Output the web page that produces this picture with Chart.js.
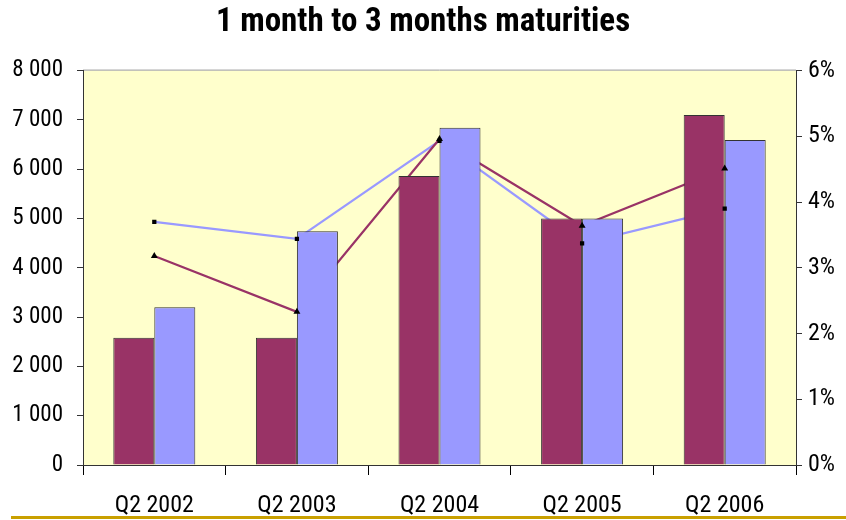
<!DOCTYPE html>
<html>
<head>
<meta charset="utf-8">
<script src="https://cdn.jsdelivr.net/npm/chart.js@4/dist/chart.umd.min.js"></script>
<style>
  body { margin: 0; background: #fff; }
  #wrap { width: 846px; height: 520px; position: relative; }
</style>
</head>
<body>
<div id="wrap"><canvas id="myChart"></canvas></div>
<script>
// categories and values
const quarters = ["Q2 2002", "Q2 2003", "Q2 2004", "Q2 2005", "Q2 2006"];
const amountA = [2580, 2580, 5860, 5000, 7100];   // maroon bars
const amountB = [3200, 4740, 6840, 5000, 6590];   // blue bars
const rateA = [3.18, 2.33, 4.96, 3.64, 4.51];     // maroon line, triangles (%)
const rateB = [3.70, 3.44, 4.93, 3.37, 3.90];     // blue line, squares (%)
const leftTicks = [0, 1000, 2000, 3000, 4000, 5000, 6000, 7000, 8000];
const rightTicks = [0, 1, 2, 3, 4, 5, 6];

const maroon = "#993366";
const blue = "#9999FF";
const font = "'Roboto Condensed', 'Liberation Sans Narrow', sans-serif";

// yellow plot area + top border, gold rule at the bottom
const plotBg = {
  id: "plotBg",
  beforeDraw(chart) {
    const { ctx, chartArea: a } = chart;
    ctx.save();
    ctx.fillStyle = "#FFFFCC";
    ctx.fillRect(a.left, a.top, a.right - a.left, a.bottom - a.top);
    ctx.strokeStyle = "#999999";
    ctx.lineWidth = 1;
    ctx.beginPath();
    ctx.moveTo(a.left, a.top - 0.5);
    ctx.lineTo(a.right, a.top - 0.5);
    ctx.stroke();
    ctx.restore();
  },
  afterDraw(chart) {
    const ctx = chart.ctx;
    ctx.save();
    ctx.fillStyle = "#C9A000";
    ctx.fillRect(11, 516, 835, 3);
    ctx.restore();
  }
};

function fmtThousands(v) {
  return String(v).replace(/\B(?=(\d{3})+(?!\d))/g, " ");
}

new Chart("myChart", {
  type: "bar",
  data: {
    labels: quarters,
    datasets: [
      { type: "line", data: rateA, yAxisID: "y2", borderColor: maroon, borderWidth: 2.2, pointRadius: 0, order: 5 },
      { type: "line", data: rateB, yAxisID: "y2", borderColor: blue, borderWidth: 2.2, pointRadius: 0, order: 5 },
      { data: amountA, backgroundColor: maroon, borderColor: "#333333", borderWidth: 1, order: 3 },
      { data: amountB, backgroundColor: blue, borderColor: "#333333", borderWidth: 1, order: 3 },
      { type: "line", data: rateA, yAxisID: "y2", showLine: false, pointStyle: "triangle", pointRadius: 4,
        pointBackgroundColor: "#000", pointBorderColor: "#000", pointBorderWidth: 0, order: 1 },
      { type: "line", data: rateB, yAxisID: "y2", showLine: false, pointStyle: "rect", pointRadius: 3,
        pointBackgroundColor: "#000", pointBorderColor: "#000", pointBorderWidth: 0, order: 1 }
    ]
  },
  options: {
    responsive: true,
    maintainAspectRatio: false,
    animation: false,
    categoryPercentage: 0.575,
    barPercentage: 1,
    layout: { padding: 0 },
    plugins: {
      legend: { display: false },
      tooltip: { enabled: false },
      title: {
        display: true,
        text: "1 month to 3 months maturities",
        color: "#000",
        font: { family: font, size: 33, weight: "bold" },
        padding: { top: 3, bottom: 28 }
      }
    },
    scales: {
      x: {
        offset: true,
        grid: { offset: true, drawOnChartArea: false, drawTicks: true, tickLength: 10, color: "#000" },
        border: { color: "#333333" },
        ticks: { color: "#000", font: { family: font, size: 24 }, padding: 17 },
        afterFit(s) { s.height = 55; }
      },
      y: {
        position: "left",
        min: 0, max: 8000,
        afterBuildTicks(s) { s.ticks = leftTicks.map(v => ({ value: v })); },
        grid: { drawOnChartArea: false, tickLength: 6, color: "#333" },
        border: { color: "#333333" },
        ticks: { color: "#000", font: { family: font, size: 23 }, padding: 14, callback: v => fmtThousands(v) },
        afterFit(s) { s.width = 83; }
      },
      y2: {
        position: "right",
        min: 0, max: 6,
        afterBuildTicks(s) { s.ticks = rightTicks.map(v => ({ value: v })); },
        grid: { drawOnChartArea: false, tickLength: 6, color: "#333" },
        border: { color: "#333333" },
        ticks: { color: "#000", font: { family: font, size: 24 }, padding: 6, callback: v => v + "%" },
        afterFit(s) { s.width = 50; }
      }
    }
  },
  plugins: [plotBg]
});
</script>
</body>
</html>
